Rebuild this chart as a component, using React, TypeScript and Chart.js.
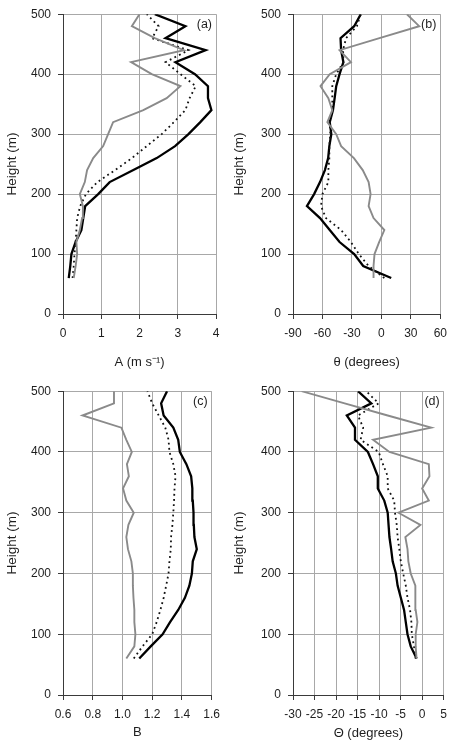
import React, { useEffect, useRef } from "react";
import { Chart, registerables } from "chart.js";

Chart.register(...registerables);

// Heights of the profile levels (m)
const heights = [60, 80, 100, 120, 140, 160, 180, 200, 220, 240, 260, 280, 300, 320, 340, 360, 380, 400, 420, 440, 460, 480, 500];

// (a) A (m s-1)
const aBlack = [0.15, 0.19, 0.22, 0.33, 0.48, 0.53, 0.58, 0.92, 1.22, 1.84, 2.45, 2.93, 3.28, 3.59, 3.88, 3.79, 3.79, 3.45, 2.94, 3.73, 2.68, 3.2, 2.4];
const aGrey = [0.28, 0.33, 0.37, 0.35, 0.44, 0.5, 0.52, 0.44, 0.57, 0.63, 0.79, 1.05, 1.18, 1.31, 2.1, 2.71, 3.07, 2.32, 1.78, 3.16, 2.4, 1.8, 2.0];
const aDot = [0.25, 0.28, 0.3, 0.33, 0.35, 0.37, 0.45, 0.6, 0.9, 1.36, 1.8, 2.19, 2.58, 2.9, 3.2, 3.31, 3.47, 3.07, 2.68, 3.28, 2.33, 2.5, 2.19];

// (b) theta (degrees)
const bBlack = [10, -18.5, -27.7, -42.6, -52.6, -62.5, -75.8, -68.5, -62.5, -57.5, -54.2, -53, -51, -52.6, -49.3, -47.6, -46, -42.6, -38.7, -41, -41.6, -27.7, -21];
const bGrey = [-8, -8, -7, -2.3, 3, -8, -13, -11, -13, -19, -28, -41, -46, -55, -50, -54, -62, -52.6, -31, -42.6, -2, 38.5, 26];
const bDot = [3, -13, -23, -31, -41, -56.5, -61.5, -60, -54, -54, -53, -53, -52, -52.6, -50, -50, -50, -46, -38.7, -39, -36, -25, -21];

// (c) B
const cBlack = [1.113, 1.19, 1.27, 1.32, 1.375, 1.42, 1.45, 1.467, 1.473, 1.5, 1.484, 1.48, 1.478, 1.473, 1.47, 1.462, 1.43, 1.386, 1.375, 1.342, 1.277, 1.26, 1.3];
const cGrey = [1.026, 1.08, 1.087, 1.08, 1.08, 1.074, 1.07, 1.07, 1.06, 1.037, 1.026, 1.04, 1.076, 1.026, 1.004, 1.043, 1.03, 1.063, 1.026, 0.993, 0.731, 0.943, 0.943];
const cDot = [1.076, 1.135, 1.2, 1.23, 1.255, 1.277, 1.294, 1.31, 1.316, 1.325, 1.327, 1.336, 1.342, 1.347, 1.35, 1.357, 1.342, 1.316, 1.31, 1.288, 1.244, 1.2, 1.168];

// (d) Theta (degrees)
const dBlack = [-1.28, -2.65, -3.4, -3.8, -4.2, -4.95, -5.7, -6.1, -6.85, -7.2, -7.6, -7.8, -8, -8.8, -10.3, -10.3, -11.4, -12.6, -15.6, -15.6, -17.5, -11.8, -14.9];
const dGrey = [-1.3, -1.5, -1.5, -1.1, -1.5, -1.65, -1.5, -2.65, -3.2, -3.4, -3.9, -0.4, -5.5, 1.55, 0, 1.7, 1.55, -7.6, -11.4, 2.1, -8, -18, -28];
const dDot = [-1.5, -1.9, -2.4, -2.5, -2.8, -3.4, -3.8, -4.4, -4.95, -5.3, -5.7, -5.9, -6.3, -6.5, -8, -8, -9.1, -10.1, -14.3, -13.7, -14.9, -10.1, -13];

const FONT = '"Liberation Sans", Arial, Helvetica, sans-serif';
const GRID = "#a8a8a8";
const AXIS = "#3a3a3a";
const TEXT = "#1e1e1e";

type PanelSpec = {
  letter: string;
  black: number[];
  grey: number[];
  dot: number[];
  xMin: number;
  xMax: number;
  xStep: number;
  xTitle: string;
  decimals: number;
  left: number;
  top: number;
  padTop: number;
  padRight: number;
  yAxisWidth: number;
  xAxisHeight: number;
  titlePadBottom: number;
};

const W = 227;
const H = 377;

const panels: PanelSpec[] = [
  { letter: "(a)", black: aBlack, grey: aGrey, dot: aDot, xMin: 0, xMax: 4, xStep: 1, xTitle: "A (m s\u207B\u00B9)", decimals: 0,
    left: 0, top: 0, padTop: 9, padRight: 11, yAxisWidth: 63, xAxisHeight: 63, titlePadBottom: 7 },
  { letter: "(b)", black: bBlack, grey: bGrey, dot: bDot, xMin: -90, xMax: 60, xStep: 30, xTitle: "\u03B8 (degrees)", decimals: 0,
    left: 227, top: 0, padTop: 9, padRight: 10, yAxisWidth: 66, xAxisHeight: 63, titlePadBottom: 7 },
  { letter: "(c)", black: cBlack, grey: cGrey, dot: cDot, xMin: 0.6, xMax: 1.6, xStep: 0.2, xTitle: "B", decimals: 1,
    left: 0, top: 377, padTop: 13, padRight: 11, yAxisWidth: 63, xAxisHeight: 59, titlePadBottom: 14 },
  { letter: "(d)", black: dBlack, grey: dGrey, dot: dDot, xMin: -30, xMax: 5, xStep: 5, xTitle: "\u0398 (degrees)", decimals: 0,
    left: 227, top: 377, padTop: 13, padRight: 9, yAxisWidth: 66, xAxisHeight: 59, titlePadBottom: 13 },
];

function toPoints(values: number[]) {
  return heights.map((h, i) => ({ x: values[i], y: h }));
}

function Panel({ spec }: { spec: PanelSpec }) {
  const ref = useRef<HTMLCanvasElement | null>(null);

  useEffect(() => {
    if (!ref.current) return;
    const letterPlugin = {
      id: "panelLetter",
      afterDraw(chart: any) {
        const { ctx, chartArea } = chart;
        ctx.save();
        ctx.font = `12.5px ${FONT}`;
        ctx.fillStyle = TEXT;
        ctx.textAlign = "right";
        ctx.textBaseline = "middle";
        ctx.fillText(spec.letter, chartArea.right - 4, chartArea.top + 10);
        ctx.restore();
      },
    };

    const chart = new Chart(ref.current, {
      type: "scatter",
      data: {
        datasets: [
          {
            data: toPoints(spec.grey),
            showLine: true,
            borderColor: "#8a8a8a",
            borderWidth: 1.9,
            pointRadius: 0,
          },
          {
            data: toPoints(spec.dot),
            showLine: true,
            borderColor: "#111",
            borderWidth: 1.8,
            borderDash: [1.8, 3.4],
            pointRadius: 0,
          },
          {
            data: toPoints(spec.black),
            showLine: true,
            borderColor: "#000",
            borderWidth: 2.3,
            pointRadius: 0,
          },
        ],
      },
      options: {
        animation: false,
        responsive: false,
        maintainAspectRatio: false,
        devicePixelRatio: 1,
        layout: { padding: { top: spec.padTop, right: spec.padRight, left: 0, bottom: 0 } },
        plugins: { legend: { display: false }, tooltip: { enabled: false } },
        scales: {
          x: {
            type: "linear",
            min: spec.xMin,
            max: spec.xMax,
            afterFit: (scale: any) => { scale.height = spec.xAxisHeight; },
            ticks: {
              stepSize: spec.xStep,
              autoSkip: false,
              maxRotation: 0,
              padding: 7,
              color: TEXT,
              font: { family: FONT, size: 12 },
              callback: (v: any) => Number(v).toFixed(spec.decimals),
            },
            grid: { color: GRID, lineWidth: 1, tickLength: 5, tickColor: AXIS },
            border: { color: AXIS, width: 1 },
            title: {
              display: true,
              text: spec.xTitle,
              color: TEXT,
              font: { family: FONT, size: 13 },
              padding: { top: 0, bottom: spec.titlePadBottom },
            },
          },
          y: {
            type: "linear",
            min: 0,
            max: 500,
            afterFit: (scale: any) => { scale.width = spec.yAxisWidth; },
            ticks: {
              stepSize: 100,
              padding: 7,
              color: TEXT,
              font: { family: FONT, size: 12 },
            },
            grid: { color: GRID, lineWidth: 1, tickLength: 5, tickColor: AXIS },
            border: { color: AXIS, width: 1 },
            title: {
              display: true,
              text: "Height (m)",
              color: TEXT,
              font: { family: FONT, size: 13.5 },
              padding: { top: 4, bottom: 0 },
            },
          },
        },
      },
      plugins: [letterPlugin],
    });
    return () => chart.destroy();
  }, [spec]);

  return (
    <canvas
      ref={ref}
      width={W}
      height={H}
      style={{ position: "absolute", left: spec.left, top: spec.top, width: W, height: H }}
    />
  );
}

export default function App() {
  return (
    <div style={{ position: "absolute", left: 0, top: 0, width: 454, height: 754, background: "#fff" }}>
      {panels.map((p) => (
        <Panel key={p.letter} spec={p} />
      ))}
    </div>
  );
}
